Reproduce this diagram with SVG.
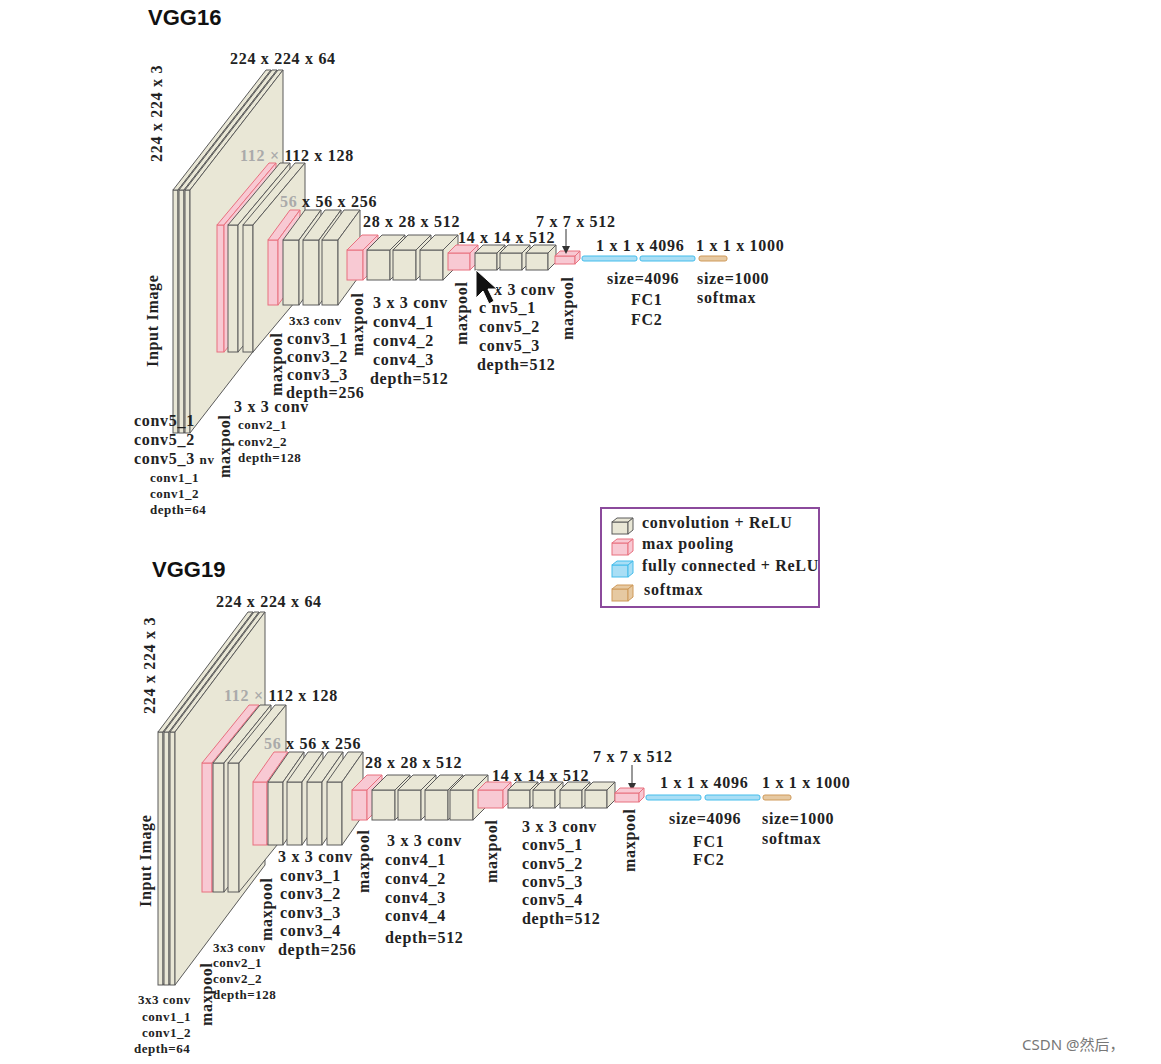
<svg xmlns="http://www.w3.org/2000/svg" xmlns:xlink="http://www.w3.org/1999/xlink" width="1161" height="1064" viewBox="0 0 1161 1064">
<style>
.cv{fill:#e9e7d6;stroke:#5a5a5a;stroke-width:1}
.pl{fill:#f8c9d3;stroke:#e8707f;stroke-width:1}
.fc{fill:#a9def5;stroke:#45bdeb;stroke-width:1}
.sm{fill:#e6c9a2;stroke:#cf9a5a;stroke-width:1}
text{font-family:"Liberation Serif","DejaVu Serif",serif;font-weight:bold;fill:#222}
.l{font-size:16px;letter-spacing:0.7px}
.s{font-size:13px;letter-spacing:0.5px}
.g{fill:#aaa}
.h{font-family:"Liberation Sans",Arial,sans-serif;font-size:22px;font-weight:bold;fill:#111;letter-spacing:0}
</style>
<defs>
<g id="s1"><rect width="5" height="243"/><polygon points="0,0 93,-120 98,-120 5,0"/><polygon points="5,0 98,-120 98,123 5,243"/></g>
<g id="c2"><rect width="10" height="127"/><polygon points="0,0 52,-62 62,-62 10,0"/><polygon points="10,0 62,-62 62,65 10,127"/></g>
<g id="p2"><rect width="7" height="127"/><polygon points="0,0 52,-62 59,-62 7,0"/><polygon points="7,0 59,-62 59,65 7,127"/></g>
<g id="c3"><rect width="16" height="65"/><polygon points="0,0 22,-30 38,-30 16,0"/><polygon points="16,0 38,-30 38,35 16,65"/></g>
<g id="p3"><rect width="10" height="65"/><polygon points="0,0 22,-30 32,-30 10,0"/><polygon points="10,0 32,-30 32,35 10,65"/></g>
<g id="c4"><rect width="23" height="30"/><polygon points="0,0 15,-15 38,-15 23,0"/><polygon points="23,0 38,-15 38,15 23,30"/></g>
<g id="p4"><rect width="16" height="30"/><polygon points="0,0 15,-15 31,-15 16,0"/><polygon points="16,0 31,-15 31,15 16,30"/></g>
<g id="c5"><rect width="22" height="17"/><polygon points="0,0 8,-8 30,-8 22,0"/><polygon points="22,0 30,-8 30,9 22,17"/></g>
<g id="p6"><rect width="20" height="8"/><polygon points="0,0 5,-5 25,-5 20,0"/><polygon points="20,0 25,-5 25,3 20,8"/></g>
<g id="f55"><rect width="55" height="5" rx="2"/></g>
<g id="f28"><rect width="28" height="5" rx="2"/></g>
<g id="t1"><rect width="5" height="253"/><polygon points="0,0 90,-120 95,-120 5,0"/><polygon points="5,0 95,-120 95,133 5,253"/></g>
<g id="d2"><rect width="11" height="129"/><polygon points="0,0 47,-58 58,-58 11,0"/><polygon points="11,0 58,-58 58,71 11,129"/></g>
<g id="q2"><rect width="10" height="129"/><polygon points="0,0 47,-58 57,-58 10,0"/><polygon points="10,0 57,-58 57,71 10,129"/></g>
<g id="d3"><rect width="15" height="63"/><polygon points="0,0 21,-30 36,-30 15,0"/><polygon points="15,0 36,-30 36,33 15,63"/></g>
<g id="q3"><rect width="14" height="63"/><polygon points="0,0 21,-30 35,-30 14,0"/><polygon points="14,0 35,-30 35,33 14,63"/></g>
<g id="q4"><rect width="15" height="30"/><polygon points="0,0 15,-15 30,-15 15,0"/><polygon points="15,0 30,-15 30,15 15,30"/></g>
<g id="d5"><rect width="22" height="18"/><polygon points="0,0 8,-8 30,-8 22,0"/><polygon points="22,0 30,-8 30,10 22,18"/></g>
<g id="q5"><rect width="25" height="18"/><polygon points="0,0 8,-8 33,-8 25,0"/><polygon points="25,0 33,-8 33,10 25,18"/></g>
<g id="q6"><rect width="24" height="9"/><polygon points="0,0 5,-5 29,-5 24,0"/><polygon points="24,0 29,-5 29,4 24,9"/></g>
<g id="li"><rect width="16" height="12"/><polygon points="0,0 5,-4 21,-4 16,0"/><polygon points="16,0 21,-4 21,8 16,12"/></g>
<marker id="ar" markerWidth="8" markerHeight="8" refX="4" refY="8" orient="auto" markerUnits="userSpaceOnUse"><path d="M0,0 L8,0 L4,8 Z" fill="#333" transform="rotate(-90 4 4)"/></marker>
</defs>

<text class="h" x="148" y="25">VGG16</text>
<g id="vgg16">
<use href="#s1" class="cv" x="173" y="190"/><use href="#s1" class="cv" x="179" y="190"/><use href="#s1" class="cv" x="185" y="190"/>
<use href="#p2" class="pl" x="217" y="225"/><use href="#c2" class="cv" x="228" y="225"/><use href="#c2" class="cv" x="243" y="225"/>
<use href="#p3" class="pl" x="268" y="240"/><use href="#c3" class="cv" x="283" y="240"/><use href="#c3" class="cv" x="303" y="240"/><use href="#c3" class="cv" x="322" y="240"/>
<use href="#p4" class="pl" x="347" y="250"/><use href="#c4" class="cv" x="367" y="250"/><use href="#c4" class="cv" x="393" y="250"/><use href="#c4" class="cv" x="420" y="250"/>
<use href="#c5" class="pl" x="448" y="253"/><use href="#c5" class="cv" x="475" y="253"/><use href="#c5" class="cv" x="500" y="253"/><use href="#c5" class="cv" x="526" y="253"/>
<use href="#p6" class="pl" x="555" y="256"/>
<use href="#f55" class="fc" x="582" y="256"/><use href="#f55" class="fc" x="640" y="256"/><use href="#f28" class="sm" x="699" y="256"/>
</g>
<g id="connectors">
<line x1="566" y1="229" x2="566" y2="252" stroke="#333"/>
<polygon points="562,246 570,246 566,254" fill="#333"/>
<line x1="632" y1="765" x2="632" y2="789" stroke="#333"/>
<polygon points="628,783 636,783 632,791" fill="#333"/>
</g>
<g id="labels16">
<text class="l" x="230" y="64">224 x 224 x 64</text>
<text class="l" transform="translate(162,162) rotate(-90)">224 x 224 x 3</text>
<text class="l" x="240" y="161"><tspan class="g">112 ×</tspan> 112 x 128</text>
<text class="l" x="280" y="207"><tspan class="g">56</tspan> x 56 x 256</text>
<text class="l" x="363" y="227">28 x 28 x 512</text>
<text class="l" x="458" y="243">14 x 14 x 512</text>
<text class="l" x="536" y="227">7 x 7 x 512</text>
<text class="l" x="596" y="251">1 x 1 x 4096</text>
<text class="l" x="696" y="251">1 x 1 x 1000</text>
<text class="l" x="607" y="284">size=4096</text>
<text class="l" x="631" y="305">FC1</text>
<text class="l" x="631" y="325">FC2</text>
<text class="l" x="697" y="284">size=1000</text>
<text class="l" x="697" y="303">softmax</text>
<text class="l" transform="translate(158,367) rotate(-90)">Input Image</text>
<text class="l" x="134" y="426">conv5_1</text>
<text class="l" x="134" y="445">conv5_2</text>
<text class="l" x="134" y="464">conv5_3 <tspan font-size="13">nv</tspan></text>
<text class="s" x="150" y="482">conv1_1</text>
<text class="s" x="150" y="498">conv1_2</text>
<text class="s" x="150" y="514">depth=64</text>
<text class="l" transform="translate(230,478) rotate(-90)">maxpool</text>
<text class="l" x="234" y="412">3 x 3 conv</text>
<text class="s" x="238" y="429">conv2_1</text>
<text class="s" x="238" y="446">conv2_2</text>
<text class="s" x="238" y="462">depth=128</text>
<text class="l" transform="translate(282,396) rotate(-90)">maxpool</text>
<text class="s" x="289" y="325">3x3 conv</text>
<text class="l" x="287" y="344">conv3_1</text>
<text class="l" x="287" y="362">conv3_2</text>
<text class="l" x="287" y="380">conv3_3</text>
<text class="l" x="286" y="398">depth=256</text>
<text class="l" transform="translate(363,356) rotate(-90)">maxpool</text>
<text class="l" x="373" y="308">3 x 3 conv</text>
<text class="l" x="373" y="327">conv4_1</text>
<text class="l" x="373" y="346">conv4_2</text>
<text class="l" x="373" y="365">conv4_3</text>
<text class="l" x="370" y="384">depth=512</text>
<text class="l" transform="translate(467,345) rotate(-90)">maxpool</text>
<text class="l" x="494" y="295">x 3 conv</text>
<text class="l" x="479" y="313">c nv5_1</text>
<text class="l" x="479" y="332">conv5_2</text>
<text class="l" x="479" y="351">conv5_3</text>
<text class="l" x="477" y="370">depth=512</text>
<text class="l" transform="translate(573,340) rotate(-90)">maxpool</text>
<path d="M476,270 L476,298 L483,291 L489,304 L494,301 L488,289 L497,289 Z" fill="#111" stroke="#fff" stroke-width="1"/>
</g>

<g id="legend">
<rect x="601" y="508" width="218" height="99" fill="#fff" stroke="#8b4a9c" stroke-width="2"/>
<use href="#li" class="cv" x="612" y="522"/>
<use href="#li" class="pl" x="612" y="543"/>
<use href="#li" class="fc" x="612" y="565"/>
<use href="#li" class="sm" x="612" y="589"/>
<text class="l" x="642" y="528">convolution + ReLU</text>
<text class="l" x="642" y="549">max pooling</text>
<text class="l" x="642" y="571">fully connected + ReLU</text>
<text class="l" x="644" y="595">softmax</text>
</g>

<text class="h" x="152" y="577">VGG19</text>
<g id="vgg19">
<use href="#t1" class="cv" x="158" y="732"/><use href="#t1" class="cv" x="164" y="732"/><use href="#t1" class="cv" x="170" y="732"/>
<use href="#q2" class="pl" x="202" y="763"/><use href="#d2" class="cv" x="213" y="763"/><use href="#d2" class="cv" x="228" y="763"/>
<use href="#q3" class="pl" x="253" y="782"/><use href="#d3" class="cv" x="268" y="782"/><use href="#d3" class="cv" x="287" y="782"/><use href="#d3" class="cv" x="307" y="782"/><use href="#d3" class="cv" x="327" y="782"/>
<use href="#q4" class="pl" x="352" y="790"/><use href="#c4" class="cv" x="372" y="790"/><use href="#c4" class="cv" x="398" y="790"/><use href="#c4" class="cv" x="425" y="790"/><use href="#c4" class="cv" x="450" y="790"/>
<use href="#q5" class="pl" x="478" y="790"/><use href="#d5" class="cv" x="508" y="790"/><use href="#d5" class="cv" x="533" y="790"/><use href="#d5" class="cv" x="560" y="790"/><use href="#d5" class="cv" x="585" y="790"/>
<use href="#q6" class="pl" x="615" y="793"/>
<use href="#f55" class="fc" x="646" y="795"/><use href="#f55" class="fc" x="705" y="795"/><use href="#f28" class="sm" x="763" y="795"/>
</g>
<g id="labels19">
<text class="l" x="216" y="607">224 x 224 x 64</text>
<text class="l" transform="translate(155,714) rotate(-90)">224 x 224 x 3</text>
<text class="l" x="224" y="701"><tspan class="g">112 ×</tspan> 112 x 128</text>
<text class="l" x="264" y="749"><tspan class="g">56</tspan> x 56 x 256</text>
<text class="l" x="365" y="768">28 x 28 x 512</text>
<text class="l" x="492" y="781">14 x 14 x 512</text>
<text class="l" x="593" y="762">7 x 7 x 512</text>
<text class="l" x="660" y="788">1 x 1 x 4096</text>
<text class="l" x="762" y="788">1 x 1 x 1000</text>
<text class="l" x="669" y="824">size=4096</text>
<text class="l" x="693" y="847">FC1</text>
<text class="l" x="693" y="865">FC2</text>
<text class="l" x="762" y="824">size=1000</text>
<text class="l" x="762" y="844">softmax</text>
<text class="l" transform="translate(151,907) rotate(-90)">Input Image</text>
<text class="s" x="138" y="1004">3x3 conv</text>
<text class="s" x="142" y="1021">conv1_1</text>
<text class="s" x="142" y="1037">conv1_2</text>
<text class="s" x="134" y="1053">depth=64</text>
<text class="l" transform="translate(212,1026) rotate(-90)">maxpool</text>
<text class="s" x="213" y="952">3x3 conv</text>
<text class="s" x="213" y="967">conv2_1</text>
<text class="s" x="213" y="983">conv2_2</text>
<text class="s" x="213" y="999">depth=128</text>
<text class="l" transform="translate(272,941) rotate(-90)">maxpool</text>
<text class="l" x="278" y="862">3 x 3 conv</text>
<text class="l" x="280" y="881">conv3_1</text>
<text class="l" x="280" y="899">conv3_2</text>
<text class="l" x="280" y="918">conv3_3</text>
<text class="l" x="280" y="936">conv3_4</text>
<text class="l" x="278" y="955">depth=256</text>
<text class="l" transform="translate(369,893) rotate(-90)">maxpool</text>
<text class="l" x="387" y="846">3 x 3 conv</text>
<text class="l" x="385" y="865">conv4_1</text>
<text class="l" x="385" y="884">conv4_2</text>
<text class="l" x="385" y="903">conv4_3</text>
<text class="l" x="385" y="921">conv4_4</text>
<text class="l" x="385" y="943">depth=512</text>
<text class="l" transform="translate(497,883) rotate(-90)">maxpool</text>
<text class="l" x="522" y="832">3 x 3 conv</text>
<text class="l" x="522" y="850">conv5_1</text>
<text class="l" x="522" y="869">conv5_2</text>
<text class="l" x="522" y="887">conv5_3</text>
<text class="l" x="522" y="905">conv5_4</text>
<text class="l" x="522" y="924">depth=512</text>
<text class="l" transform="translate(635,872) rotate(-90)">maxpool</text>
</g>
<text x="1022" y="1050" style="font-family:'Noto Sans','Noto Sans CJK SC',sans-serif;font-weight:normal;font-size:15px;fill:#777">CSDN @然后，</text>
</svg>
